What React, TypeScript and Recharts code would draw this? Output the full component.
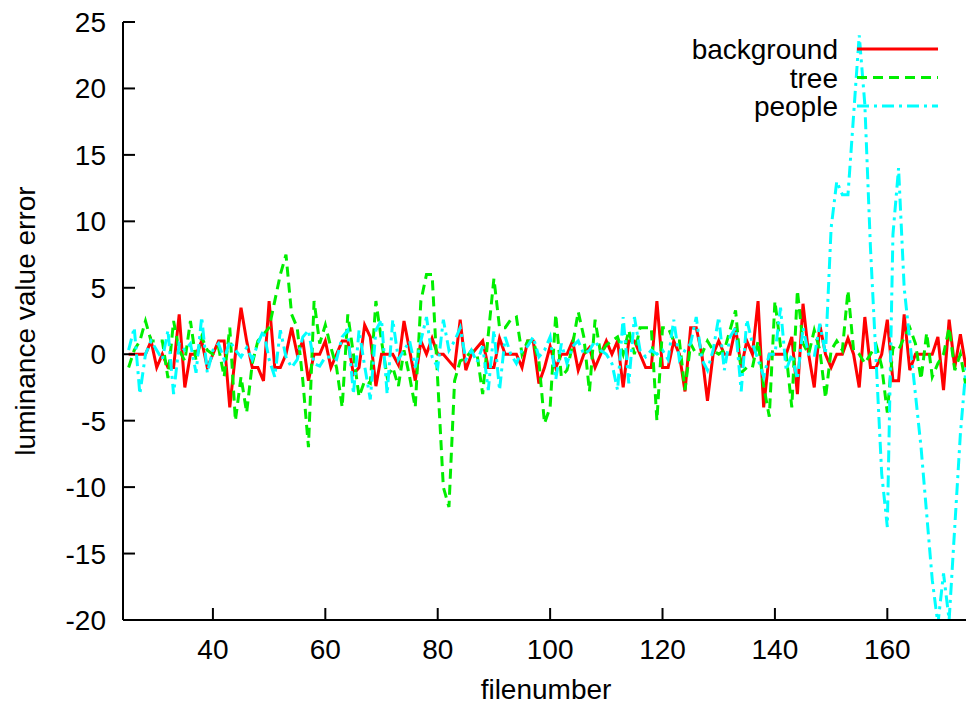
import { LineChart, Line, XAxis, YAxis, Legend } from 'recharts';

// file numbers 25..174, one row per file
const FIRST_FILE = 25;

const background = [
  0, 0, 0, 0, 1, -1, 0, -1, -1, 3,
  -2.5, 0, 0, 1, -1, 0, 1, 1, -4, 0,
  3.5, 1, -1, -1, -2, 4, -1, -1, 0, 2,
  0, 1, -2, 0, 0, 1, -1, 0, 1, 1,
  -1.5, -1, 2.2, 1.3, -2.4, 0, 0, 0, -0.8, 2.5,
  0.3, -2, 1, 0, 1.2, 0, 0, -0.5, -1, 2.6,
  -1.2, 0, 0.5, 1, -1, -1, 1.2, 0, 0, 0,
  -1, 1, 1, -2.2, -1, 0.6, -1, 0, 0, 1,
  -1.2, 0, 0.5, -1, 0, 1, 0, 1, -2.5, 1,
  1, 0, -1, -1, 4, -1, -1, 1, 0, -2.8,
  2, 2, 0, -3.5, 0, 1, 0, 0, 2, -1,
  1, 0, 4, -4, 0, 0, 0, 0, 1.3, -3,
  3.8, 0, -2.5, 2.2, 0, -1, 0, 0, 1.2, 0,
  -2.5, 2.8, -1, -1, 0, 2.6, -2, -2, 3, -1.2,
  0, 0, 0, 0, 1.3, -2.7, 2.6, -1, 1.5, -1,
];

const tree = [
  -1, 0.3, 1, 2.5, 1, 1, 1, -1.8, 2.5, 0.3,
  -0.5, 2.5, -0.5, 1.3, 0.3, 0, 0.5, -1.7, 2, -5,
  -1.7, -4.4, -0.7, 1, 1.5, 2, 4, 6, 7.5, 3,
  2, -2, -7, 4, 0.8, 2.2, 0.5, -1, -4, 3,
  0, -3.2, -2, -2.2, 4, 1, -1.7, -1, -2.4, 0.3,
  -1.7, -4, 4, 6, 6, -2, -10, -11.5, -2, -0.5,
  -0.3, 0.3, 0, -3, 1.5, 5.7, 2, 2, 2.6, 2.8,
  0, 1, 1, -0.5, -5.2, -4, 3, -1.7, -1.2, 0.7,
  3.2, 1.3, -2.8, 2.6, 0, 0.7, 1, 1.3, 0, 1.8,
  0, 2, 2, 2, -5, 2, 2, 1, 1, -2.7,
  0.8, 0, 0, 1, 0.3, 0, 0.3, 1.8, 3.3, -1.4,
  -1, -1, 1, -2.4, -4.7, 4, 0.6, 0, -4, 4.8,
  0.8, 0, 1.8, 0.3, -3.3, 0.3, 1, 0.3, 4.8, 0.3,
  0, -0.7, 0, 0.7, -0.9, -4.4, 0.5, 0.3, 1.3, 2,
  0.8, -1.9, 1.6, -1.7, -0.7, 0, 2, -1.2, 0, -2.4,
];

const people = [
  0.3, 2, -3, 0, 1, 0.3, -0.4, 1.8, -3, 0.8,
  0.3, 0.8, -1.4, 2.8, -1.4, 0.3, 0.8, -0.4, 1, 0.3,
  -0.2, 0.5, -0.4, 0.8, 1.8, -0.4, -1.7, 1.8, -0.2, -1,
  -0.4, 1.3, 1.8, -0.7, -0.9, -0.2, -0.2, -0.4, 1.3, 1.8,
  -3, 1.8, -0.9, -3.4, 1.8, 2.6, -3, 2.6, -0.4, 0.3,
  1, -1, 1, 2.8, -0.2, -1, 2.6, 0.3, 1, 2,
  -0.4, 0.3, -0.6, 0.6, -2.7, 1.8, -2.7, 1.3, 0, -0.7,
  0.3, 0.6, 1.3, -0.2, 0.3, 1.3, -1.9, 0.8, -0.7, 0.6,
  1, 0, 0.3, 1, 0.3, 0, -0.7, -2.7, 2.8, -2.2,
  2.8, 0.3, -0.2, 0.3, 0, 0.3, -0.4, 2.6, -0.4, 0.3,
  0.8, 2.8, -0.4, -1.2, 0.3, 2.8, -1.2, 1.3, 2, -2.8,
  2.6, 0.8, -0.4, -1.7, 0, 0, 3.5, -1.2, 0, -1.9,
  2, 0, -0.2, 2.3, 0, 9.5, 13, 12, 12, 18,
  24, 18.8, 8, -0.4, -9, -13, 9, 14, 5, 1,
  -3, -7, -12, -17, -20.3, -16.5, -20, -13, -6, -1,
];

const xTicks = [40, 60, 80, 100, 120, 140, 160];
const yTicks = [-20, -15, -10, -5, 0, 5, 10, 15, 20, 25];

const series = [
  { key: 'background', color: '#ff0000', dash: undefined },
  { key: 'tree', color: '#00ee00', dash: '10 6' },
  { key: 'people', color: '#00ffff', dash: '12 5 3 5' },
];

const data = background.map((v, i) => ({
  file: FIRST_FILE + i,
  background: v,
  tree: tree[i],
  people: people[i],
}));

const FONT = '"Liberation Sans", Arial, Helvetica, sans-serif';
const TICK_LEN = 12;

const LeftTick = (props: any) => {
  const { x, y, payload } = props;
  const axisX = x + 17;
  return (
    <g>
      <line x1={axisX} y1={y} x2={axisX + TICK_LEN} y2={y} stroke="#000" strokeWidth={2} />
      <text x={x} y={y + 10} textAnchor="end" fontFamily={FONT} fontSize={28} fill="#000">
        {payload.value}
      </text>
    </g>
  );
};

const BottomTick = (props: any) => {
  const { x, y, payload } = props;
  return (
    <g>
      <line x1={x} y1={y} x2={x} y2={y - TICK_LEN} stroke="#000" strokeWidth={2} />
      <text x={x} y={y + 39} textAnchor="middle" fontFamily={FONT} fontSize={28} fill="#000">
        {payload.value}
      </text>
    </g>
  );
};

const RightTick = (props: any) => {
  const { x, y } = props;
  return <line x1={x - TICK_LEN} y1={y} x2={x} y2={y} stroke="#000" strokeWidth={2} />;
};

const TopTick = (props: any) => {
  const { x, y } = props;
  return <line x1={x} y1={y} x2={x} y2={y + TICK_LEN} stroke="#000" strokeWidth={2} />;
};

const YTitle = () => (
  <text
    x={35}
    y={321}
    transform="rotate(-90 35 321)"
    textAnchor="middle"
    fontFamily={FONT}
    fontSize={28}
    fill="#000"
  >
    luminance value error
  </text>
);

const XTitle = () => (
  <text x={546} y={699} textAnchor="middle" fontFamily={FONT} fontSize={28} fill="#000">
    filenumber
  </text>
);

const LegendBox = () => (
  <svg width={330} height={110}>
    {series.map((s, i) => {
      const y = 29 + i * 28.5;
      return (
        <g key={s.key}>
          <text x={198} y={y + 10} textAnchor="end" fontFamily={FONT} fontSize={28} fill="#000">
            {s.key}
          </text>
          <line
            x1={217}
            y1={y}
            x2={298}
            y2={y}
            stroke={s.color}
            strokeWidth={3}
            strokeDasharray={s.dash}
          />
        </g>
      );
    })}
  </svg>
);

export default function App() {
  return (
    <div style={{ position: 'absolute', left: 0, top: 0, background: '#fff' }}>
      <LineChart width={967} height={706} data={data} margin={{ top: 22, right: 1, bottom: 0, left: 0 }}>
        <XAxis
          dataKey="file"
          type="number"
          domain={[24, 174]}
          ticks={xTicks}
          allowDataOverflow
          height={86}
          tickSize={0}
          tickMargin={0}
          tickLine={false}
          axisLine={{ stroke: '#000', strokeWidth: 2 }}
          tick={<BottomTick />}
          label={<XTitle />}
        />
        <XAxis
          xAxisId="top"
          orientation="top"
          dataKey="file"
          type="number"
          domain={[24, 174]}
          ticks={xTicks}
          allowDataOverflow
          height={0}
          tickSize={0}
          tickMargin={0}
          tickLine={false}
          axisLine={{ stroke: '#000', strokeWidth: 2 }}
          tick={<TopTick />}
        />
        <YAxis
          type="number"
          domain={[-20, 25]}
          ticks={yTicks}
          allowDataOverflow
          width={123}
          tickSize={0}
          tickMargin={17}
          tickLine={false}
          axisLine={{ stroke: '#000', strokeWidth: 2 }}
          tick={<LeftTick />}
          label={<YTitle />}
        />
        <YAxis
          yAxisId="right"
          orientation="right"
          type="number"
          domain={[-20, 25]}
          ticks={yTicks}
          allowDataOverflow
          width={0}
          tickSize={0}
          tickMargin={0}
          tickLine={false}
          axisLine={{ stroke: '#000', strokeWidth: 2 }}
          tick={<RightTick />}
        />
        <Legend
          layout="vertical"
          align="center"
          verticalAlign="middle"
          wrapperStyle={{ left: 640, top: 20, width: 330 }}
          content={<LegendBox />}
        />
        {series.map((s) => (
          <Line
            key={s.key}
            type="linear"
            dataKey={s.key}
            name={s.key}
            stroke={s.color}
            strokeWidth={3}
            strokeDasharray={s.dash}
            dot={false}
            activeDot={false}
            isAnimationActive={false}
          />
        ))}
      </LineChart>
    </div>
  );
}
